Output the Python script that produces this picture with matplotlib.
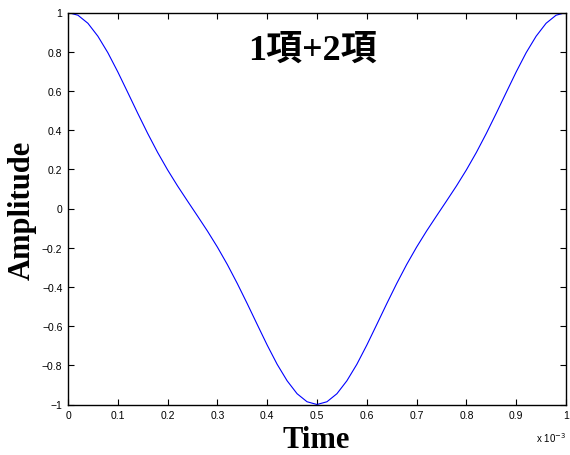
import numpy as np
import matplotlib
matplotlib.use('Agg')
import matplotlib.pyplot as plt
from matplotlib.ticker import FuncFormatter

# time in ms (axis shows x 10^-3 s)
time_ms = [0.00, 0.02, 0.04, 0.06, 0.08, 0.10, 0.12, 0.14, 0.16, 0.18,
           0.20, 0.22, 0.24, 0.26, 0.28, 0.30, 0.32, 0.34, 0.36, 0.38,
           0.40, 0.42, 0.44, 0.46, 0.48, 0.50, 0.52, 0.54, 0.56, 0.58,
           0.60, 0.62, 0.64, 0.66, 0.68, 0.70, 0.72, 0.74, 0.76, 0.78,
           0.80, 0.82, 0.84, 0.86, 0.88, 0.90, 0.92, 0.94, 0.96, 0.98, 1.00]
amplitude = [1.000, 0.986, 0.945, 0.879, 0.795, 0.697, 0.592, 0.486, 0.383, 0.286,
             0.197, 0.115, 0.038, -0.038, -0.115, -0.197, -0.286, -0.383, -0.486, -0.592,
             -0.697, -0.795, -0.879, -0.945, -0.986, -1.000, -0.986, -0.945, -0.879, -0.795,
             -0.697, -0.592, -0.486, -0.383, -0.286, -0.197, -0.115, -0.038, 0.038, 0.115,
             0.197, 0.286, 0.383, 0.486, 0.592, 0.697, 0.795, 0.879, 0.945, 0.986, 1.000]

xticks = [0, 0.1, 0.2, 0.3, 0.4, 0.5, 0.6, 0.7, 0.8, 0.9, 1.0]
yticks = [-1, -0.8, -0.6, -0.4, -0.2, 0, 0.2, 0.4, 0.6, 0.8, 1]

t = np.array(time_ms) * 1e-3

fig = plt.figure(figsize=(5.7, 4.56), dpi=100)
ax = fig.add_axes([68 / 570, 1 - 405.5 / 456, 498 / 570, 392 / 456])
ax.plot(t, amplitude, color='#0000ff', linewidth=0.8)

ax.set_xlim(0, 1e-3)
ax.set_ylim(-1, 1)
ax.set_xticks(np.array(xticks) * 1e-3)
ax.set_yticks(yticks)

def fmt(v):
    return ('%g' % round(v, 6)).replace('-', '\u2212')

ax.xaxis.set_major_formatter(FuncFormatter(lambda v, p: fmt(v * 1e3)))
ax.yaxis.set_major_formatter(FuncFormatter(lambda v, p: fmt(v)))
ax.tick_params(direction='in', length=4, width=0.8, top=True, right=True,
               labelsize=7.5, pad=4)
for lab in ax.get_xticklabels() + ax.get_yticklabels():
    lab.set_family('Liberation Sans')
for s in ax.spines.values():
    s.set_linewidth(1.0)

fig.text(551 / 570, 1 - 438 / 456, 'x 10$^{-3}$', fontsize=7, family='Liberation Sans',
         ha='center', va='center')

serif_cjk = ['Liberation Serif', 'Noto Sans CJK JP']
ax.text(0.49, 0.881, '1項+2項', transform=ax.transAxes, fontsize=26,
        fontweight='bold', family=serif_cjk, ha='center', va='baseline')
fig.text(316 / 570, 1 - 441 / 456, 'Time', fontsize=22, fontweight='bold',
         family='Liberation Serif', ha='center', va='center')
fig.text(22 / 570, 1 - 210 / 456, 'Amplitude', fontsize=22, fontweight='bold',
         family='Liberation Serif', ha='center', va='center', rotation=90)

fig.savefig('out.png', dpi=100)
